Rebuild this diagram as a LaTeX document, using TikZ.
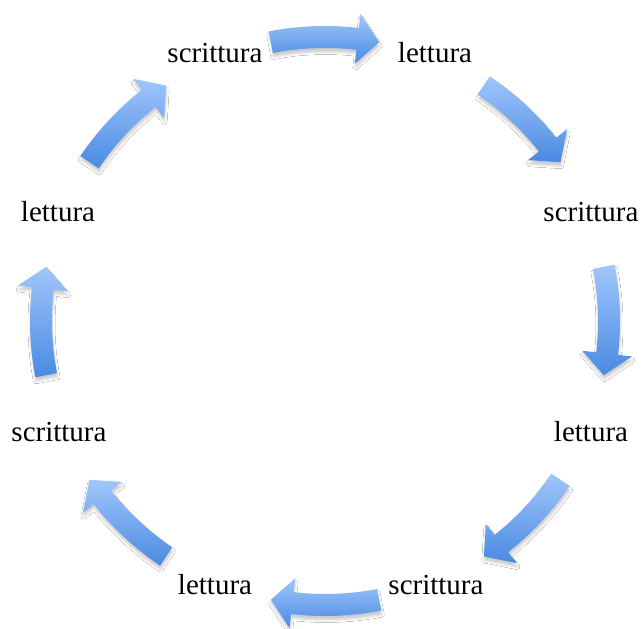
\documentclass[tikz,border=0pt]{standalone}
\usepackage{fontspec}
\setmainfont{Liberation Serif}
\usetikzlibrary{shadows.blur}
\definecolor{arrtop}{HTML}{A0C6FB}
\definecolor{arrbot}{HTML}{4A8AE2}
\tikzset{
  cyc/.style={top color=arrtop, bottom color=arrbot, draw=none,
    blur shadow={shadow xshift=0.5pt, shadow yshift=-4pt, shadow blur radius=2.5pt, shadow opacity=20}},
  lbl/.style={font=\fontsize{29}{31}\selectfont, inner sep=0pt}
}
\newcommand{\cycarrow}[1]{%
  \path[cyc] ([shift={(C)}]#1+11:273) arc[start angle=#1+11, end angle=#1-6.6, radius=273]
   -- ([shift={(C)}]#1-6.6:259) -- ([shift={(C)}]#1-11:284) -- ([shift={(C)}]#1-6.6:309)
   -- ([shift={(C)}]#1-6.6:295) arc[start angle=#1-6.6, end angle=#1+11, radius=295] -- cycle;}
\begin{document}
\begin{tikzpicture}[x=1pt,y=1pt]
\useasboundingbox[fill=white] (0,0) rectangle (643,629);
\coordinate (C) at (325,308);
\foreach \a in {90,45,0,-45,-90,-135,180,135} {\cycarrow{\a}}
\node[lbl] (s1) at (215,576) {scrittura};
\node[lbl] (l1) at (435,576) {lettura};
\node[lbl] (s2) at (591,417) {scrittura};
\node[lbl] (l2) at (591,197) {lettura};
\node[lbl] (s3) at (436,44) {scrittura};
\node[lbl] (l3) at (215,44) {lettura};
\node[lbl] (s4) at (59,197) {scrittura};
\node[lbl] (l4) at (58,417) {lettura};
\end{tikzpicture}
\end{document}
